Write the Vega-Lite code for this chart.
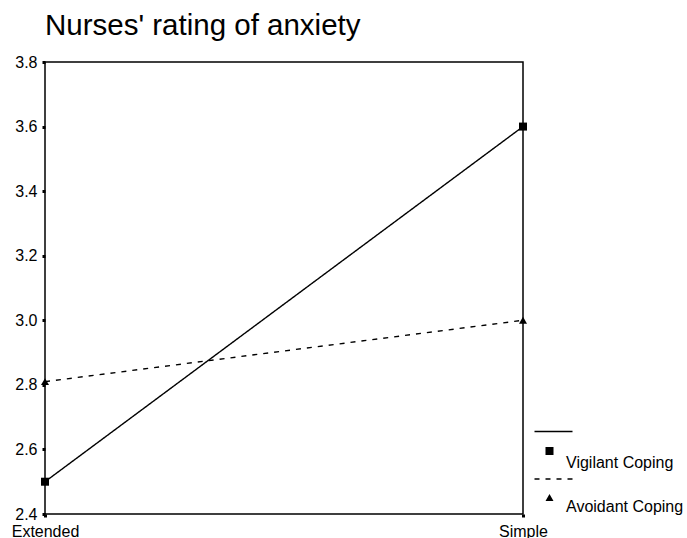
{
  "$schema": "https://vega.github.io/schema/vega-lite/v6.json",
  "width": 478,
  "height": 452,
  "autosize": "none",
  "padding": {"left": 45, "top": 62, "right": 164, "bottom": 24},
  "title": {"text": "Nurses' rating of anxiety", "anchor": "start", "frame": "group", "fontSize": 29.5, "font": "Liberation Sans", "fontWeight": "normal", "color": "black", "offset": 13},
  "config": {
    "view": {"stroke": "black", "strokeWidth": 1.5},
    "font": "Liberation Sans",
    "axis": {"domain": false, "grid": false, "ticks": true, "tickSize": 3, "tickWidth": 3, "tickColor": "black", "labelFontSize": 16, "labelColor": "black", "labelFont": "Liberation Sans", "title": null}
  },
  "data": {"values": [
    {"cond": "Extended", "series": "Vigilant Coping", "value": 2.5},
    {"cond": "Simple", "series": "Vigilant Coping", "value": 3.6},
    {"cond": "Extended", "series": "Avoidant Coping", "value": 2.81},
    {"cond": "Simple", "series": "Avoidant Coping", "value": 3.0}
  ]},
  "encoding": {
    "x": {"field": "cond", "type": "nominal", "scale": {"type": "point", "padding": 0, "domain": ["Extended", "Simple"]}, "axis": {"labelAngle": 0, "labelPadding": 6}},
    "y": {"field": "value", "type": "quantitative", "scale": {"domain": [2.4, 3.8], "nice": false, "zero": false}, "axis": {"values": [2.4, 2.6, 2.8, 3.0, 3.2, 3.4, 3.6, 3.8], "format": ".1f", "labelPadding": 5}}
  },
  "layer": [
    {
      "mark": {"type": "line", "color": "black", "strokeWidth": 1.4},
      "encoding": {"strokeDash": {"field": "series", "type": "nominal", "scale": {"domain": ["Vigilant Coping", "Avoidant Coping"], "range": [[1, 0], [5, 6]]}, "legend": null}}
    },
    {
      "mark": {"type": "point", "filled": true, "color": "black", "size": 64, "opacity": 1},
      "encoding": {"shape": {"field": "series", "type": "nominal", "scale": {"domain": ["Vigilant Coping", "Avoidant Coping"], "range": ["square", "triangle-up"]}, "legend": null}}
    },
    {
      "mark": {"type": "point", "filled": true, "color": "black", "opacity": 0},
      "encoding": {"shape": {"field": "series", "type": "nominal", "scale": {"domain": ["Vigilant Coping", "Avoidant Coping"], "range": ["M-1.5,-3.165H2.3V-3.035H-1.5ZM-0.4,-1.55H0.4V-0.75H-0.4Z", "M-1.5,-2.865H-1V-2.735H-1.5ZM-0.4,-2.865H0.1V-2.735H-0.4ZM0.7,-2.865H1.2V-2.735H0.7ZM1.8,-2.865H2.3V-2.735H1.8ZM-0.4,-0.6L0.4,-0.6L0,-1.3Z"]}, "legend": {"title": null, "orient": "none", "legendX": 494.5, "legendY": 390.5, "padding": 0, "symbolSize": 400, "symbolStrokeWidth": 0, "symbolFillColor": "black", "symbolStrokeColor": "black", "symbolOpacity": 1, "labelFontSize": 16, "labelFont": "Liberation Sans", "labelColor": "black", "labelOffset": 6.5, "rowPadding": 7.5, "labelLimit": 300, "encode": {"symbols": {"update": {"fill": {"value": "black"}, "opacity": {"value": 1}, "fillOpacity": {"value": 1}}}}}}}
    }
  ],
  "resolve": {"scale": {"shape": "independent"}, "legend": {"shape": "independent"}}
}
